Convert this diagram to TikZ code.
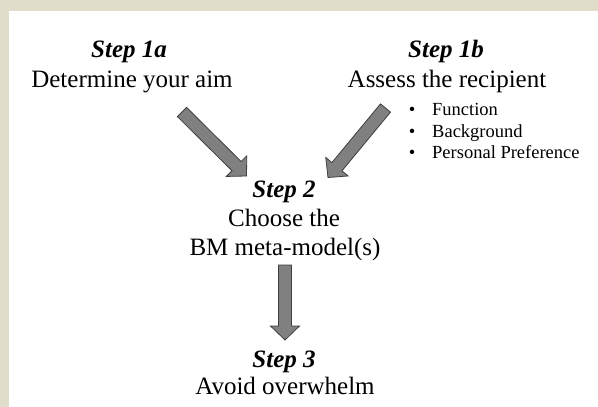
\documentclass[tikz,border=0pt]{standalone}
\usepackage{fontspec}
\setmainfont{Liberation Serif}
\usetikzlibrary{calc}

\definecolor{frame}{RGB}{225,221,203}
\definecolor{arrowfill}{RGB}{128,128,128}
\definecolor{arrowline}{RGB}{62,62,62}

% block arrow from tail coordinate #1 to tip coordinate #2
\newcommand\blockarrowpath[2]{%
  \path[blockarrow]
    ($(#1)!6.5pt!90:(#2)$) --
    ($($(#2)!14pt!(#1)$)!6.5pt!90:(#2)$) --
    ($($(#2)!14pt!(#1)$)!14.5pt!90:(#2)$) --
    (#2) --
    ($($(#2)!14pt!(#1)$)!14.5pt!-90:(#2)$) --
    ($($(#2)!14pt!(#1)$)!6.5pt!-90:(#2)$) --
    ($(#1)!6.5pt!-90:(#2)$) -- cycle;}

\begin{document}
\begin{tikzpicture}[x=1pt,y=-1pt,
  steptitle/.style={anchor=base,inner sep=0pt,font=\fontsize{25}{30}\selectfont\bfseries\itshape},
  steptext/.style={anchor=base,inner sep=0pt,font=\fontsize{25}{30}\selectfont},
  bullettext/.style={anchor=base west,inner sep=0pt,font=\fontsize{18.5}{21.5}\selectfont},
  bulletmark/.style={anchor=base,inner sep=0pt,font=\fontsize{18.5}{21.5}\selectfont},
  blockarrow/.style={fill=arrowfill,draw=arrowline,line width=0.8pt,line join=miter}]

  % page background and frame
  \useasboundingbox (0,0) rectangle (598,407);
  \fill[frame] (0,0) rectangle (598,407);
  \fill[white] (9,11) rectangle (598,407);

  % step 1a
  \node[steptitle] (s1a) at (129,57) {Step 1a};
  \node[steptext] (s1atext) at (132,87) {Determine your aim};

  % step 1b
  \node[steptitle] (s1b) at (446,57) {Step 1b};
  \node[steptext] (s1btext) at (447,87) {Assess the recipient};
  \node[bulletmark] (b1) at (412,115) {\textbullet};
  \node[bullettext] (b1text) at (432,115) {Function};
  \node[bulletmark] (b2) at (412,137) {\textbullet};
  \node[bullettext] (b2text) at (432,137) {Background};
  \node[bulletmark] (b3) at (412,158) {\textbullet};
  \node[bullettext] (b3text) at (432,158) {Personal Preference};

  % step 2
  \node[steptitle] (s2) at (284,197) {Step 2};
  \node[steptext] (s2text) at (284,226) {Choose the};
  \node[steptext] (s2textb) at (285,255) {BM meta-model(s)};

  % step 3
  \node[steptitle] (s3) at (284,367) {Step 3};
  \node[steptext] (s3text) at (285,394) {Avoid overwhelm};

  % arrow end points
  \coordinate (aTail) at (182,112);
  \coordinate (aTip) at (246.5,176);
  \coordinate (bTail) at (385.5,108);
  \coordinate (bTip) at (328,177.5);
  \coordinate (cTail) at (285,265);
  \coordinate (cTip) at (285,340);

  \blockarrowpath{aTail}{aTip}
  \blockarrowpath{bTail}{bTip}
  \blockarrowpath{cTail}{cTip}
\end{tikzpicture}
\end{document}
